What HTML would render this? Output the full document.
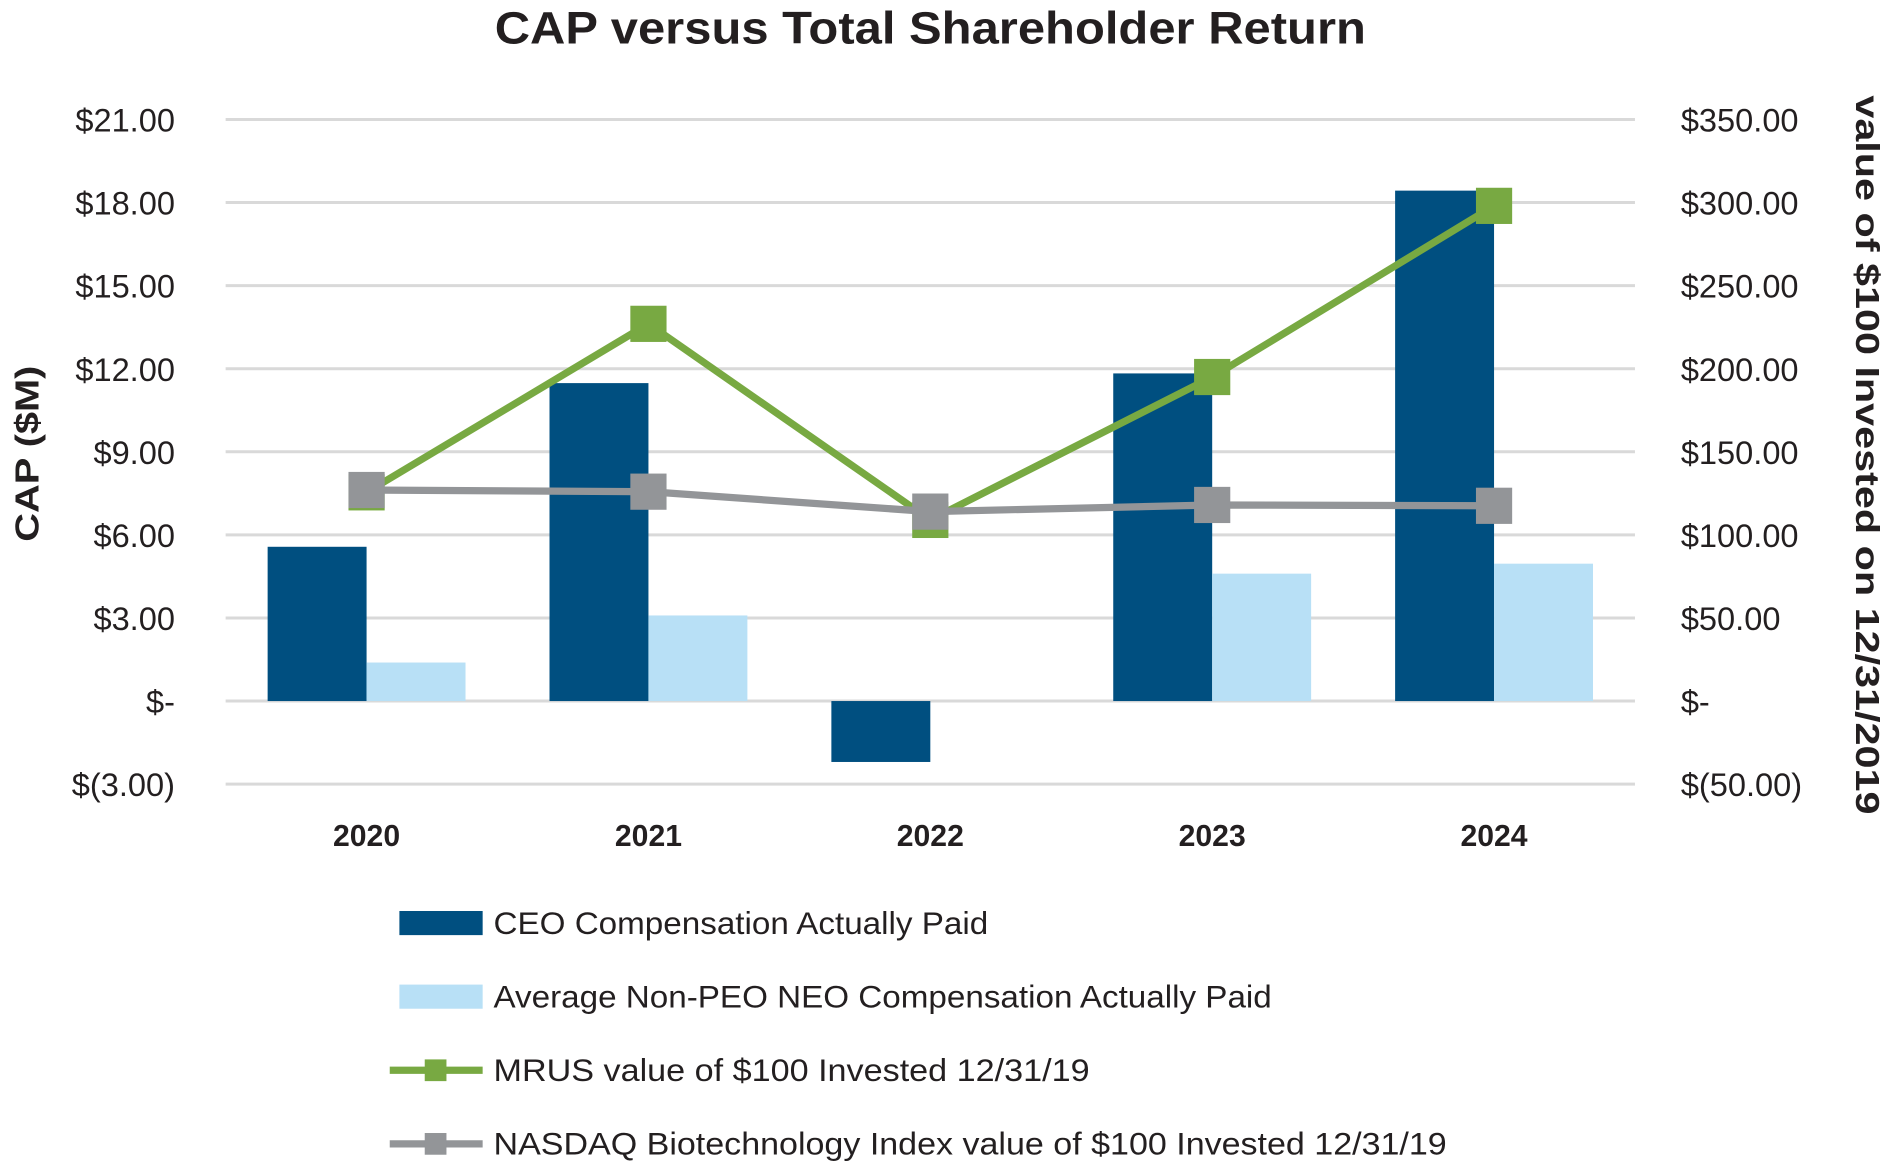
<!DOCTYPE html>
<html><head><meta charset="utf-8"><style>
html,body{margin:0;padding:0;background:#fff;}
svg{display:block;font-family:"Liberation Sans",sans-serif;}
</style></head><body>
<svg id="chart" width="1892" height="1168" viewBox="0 0 1568 968" preserveAspectRatio="none" xmlns="http://www.w3.org/2000/svg">
<text x="771" y="36" text-anchor="middle" font-size="38" font-weight="bold" fill="#231f20" textLength="722" lengthAdjust="spacingAndGlyphs">CAP versus Total Shareholder Return</text>
<g id="grid"></g><g id="bars"></g><g id="lines"></g><g id="axes"></g>
<text transform="translate(32,376) rotate(-90)" text-anchor="middle" font-size="28" font-weight="bold" fill="#231f20" textLength="146" lengthAdjust="spacingAndGlyphs">CAP ($M)</text>
<text transform="translate(1538,377) rotate(90)" text-anchor="middle" font-size="28" font-weight="bold" fill="#231f20" textLength="596" lengthAdjust="spacingAndGlyphs">value of $100 Invested on 12/31/2019</text>
<g>
<rect x="331" y="755" width="69" height="20" fill="#004f80"/>
<text x="409" y="774" font-size="26" fill="#231f20" textLength="410" lengthAdjust="spacingAndGlyphs">CEO Compensation Actually Paid</text>
<rect x="331" y="816" width="69" height="20" fill="#b8e0f6"/>
<text x="409" y="835" font-size="26" fill="#231f20" textLength="645" lengthAdjust="spacingAndGlyphs">Average Non-PEO NEO Compensation Actually Paid</text>
<line x1="323" y1="887" x2="400" y2="887" stroke="#78a942" stroke-width="6"/>
<rect x="352" y="878" width="18" height="18" fill="#78a942"/>
<text x="409" y="896" font-size="26" fill="#231f20" textLength="494" lengthAdjust="spacingAndGlyphs">MRUS value of $100 Invested 12/31/19</text>
<line x1="323" y1="948" x2="400" y2="948" stroke="#939598" stroke-width="6"/>
<rect x="352" y="939" width="18" height="18" fill="#939598"/>
<text x="409" y="957" font-size="26" fill="#231f20" textLength="790" lengthAdjust="spacingAndGlyphs">NASDAQ Biotechnology Index value of $100 Invested 12/31/19</text>
</g>
</svg>
<script>
const years = ["2020","2021","2022","2023","2024"];
const ceoCap = [5.57, 11.48, -2.2, 11.83, 18.43];
const neoCap = [1.39, 3.09, 0, 4.6, 4.96];
const mrusTsr = [125.6, 227, 109, 195, 298];
const nasdaqTsr = [127, 126, 114, 118, 117.5];
const leftTicks = [-3,0,3,6,9,12,15,18,21];
const leftTickLabels = ["$(3.00)","$-","$3.00","$6.00","$9.00","$12.00","$15.00","$18.00","$21.00"];
const rightTicks = [-50,0,50,100,150,200,250,300,350];
const rightTickLabels = ["$(50.00)","$-","$50.00","$100.00","$150.00","$200.00","$250.00","$300.00","$350.00"];

const NS="http://www.w3.org/2000/svg";
const plotL=187, plotR=1355, y0=581, y21=99;
const yL=v=>y0-(v/21)*(y0-y21);
const yR=v=>y0-(v/350)*(y0-y21);
const step=(plotR-plotL)/years.length;
const xC=i=>plotL+step*(i+0.5);
const barW=82;
function mk(tag,attrs,parent){const e=document.createElementNS(NS,tag);for(const k in attrs)e.setAttribute(k,attrs[k]);parent.appendChild(e);return e;}
const grid=document.getElementById('grid'),bars=document.getElementById('bars'),lines=document.getElementById('lines'),axes=document.getElementById('axes');
leftTicks.forEach((t,i)=>{
  const g=mk('line',{x1:plotL,x2:plotR,y1:yL(t),y2:yL(t),stroke:'#d9d9d9','stroke-width':2.5},grid);
  
  
  const tl=mk('text',{x:145,y:yL(t)+10,'text-anchor':'end','font-size':27,fill:'#231f20'},axes);
  tl.textContent=leftTickLabels[i];
  
  
});
rightTicks.forEach((t,i)=>{
  const tl=mk('text',{x:1393,y:yR(t)+10,'text-anchor':'start','font-size':27,fill:'#231f20'},axes);
  tl.textContent=rightTickLabels[i];
  
  
});
years.forEach((yr,i)=>{
  const t=mk('text',{x:xC(i),y:701,'text-anchor':'middle','font-size':25,'font-weight':'bold',fill:'#231f20'},axes);
  t.textContent=yr;
  
  
  const c=ceoCap[i];
  const b=mk('rect',{x:xC(i)-barW,y:Math.min(yL(c),y0),width:barW,height:Math.abs(yL(c)-y0),fill:'#004f80'},bars);
  
  
  const n=neoCap[i];
  const b2=mk('rect',{x:xC(i),y:Math.min(yL(n),y0),width:barW,height:Math.abs(yL(n)-y0),fill:'#b8e0f6'},bars);
  
  
});
function series(vals,color,name){
  const pl=mk('polyline',{points:vals.map((v,i)=>xC(i)+','+yR(v)).join(' '),fill:'none',stroke:color,'stroke-width':6,'stroke-linejoin':'round'},lines);
  
  
  vals.forEach((v,i)=>{
    const m=mk('rect',{x:xC(i)-15,y:yR(v)-15,width:30,height:30,fill:color},lines);
    
    
  });
}
series(mrusTsr,'#78a942','mrus');
series(nasdaqTsr,'#939598','nasdaq');
</script>
</body></html>
